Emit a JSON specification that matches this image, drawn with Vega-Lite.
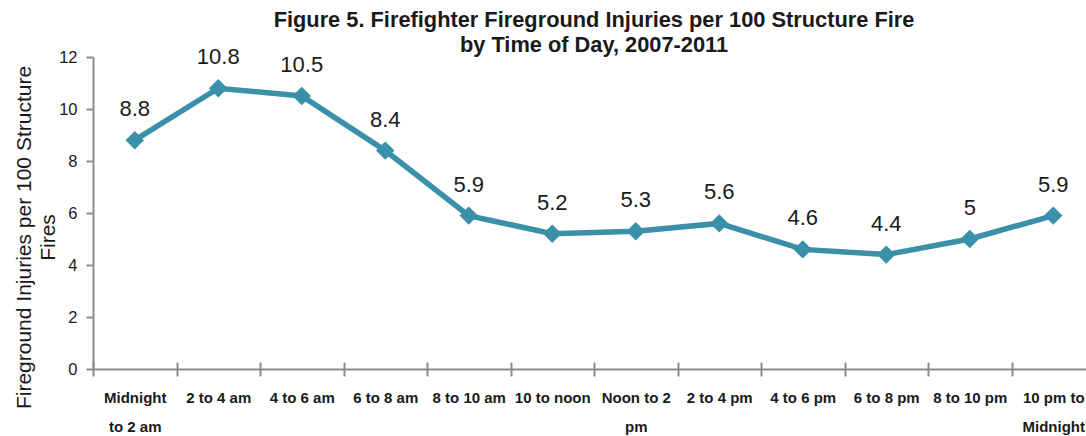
{
  "$schema": "https://vega.github.io/schema/vega-lite/v6.json",
  "autosize": {"type": "none"},
  "padding": {"left": 93, "top": 57, "right": 0, "bottom": 67},
  "width": 1002,
  "height": 312,
  "background": "white",
  "config": {
    "view": {"stroke": null},
    "font": "Liberation Sans"
  },
  "title": {
    "text": ["Figure 5. Firefighter Fireground Injuries per 100 Structure Fire", "by Time of Day, 2007-2011"],
    "font": "Liberation Sans",
    "fontSize": 21.8,
    "fontWeight": "bold",
    "color": "#1a1a1a",
    "anchor": "middle",
    "lineHeight": 25,
    "offset": 3,
    "dy": 14
  },
  "data": {
    "values": [
      {"time": "Midnight to 2 am", "rate": 8.8},
      {"time": "2 to 4 am", "rate": 10.8},
      {"time": "4 to 6 am", "rate": 10.5},
      {"time": "6 to 8 am", "rate": 8.4},
      {"time": "8 to 10 am", "rate": 5.9},
      {"time": "10 to noon", "rate": 5.2},
      {"time": "Noon to 2 pm", "rate": 5.3},
      {"time": "2 to 4 pm", "rate": 5.6},
      {"time": "4 to 6 pm", "rate": 4.6},
      {"time": "6 to 8 pm", "rate": 4.4},
      {"time": "8 to 10 pm", "rate": 5},
      {"time": "10 pm to Midnight", "rate": 5.9}
    ]
  },
  "resolve": {"axis": {"x": "independent"}},
  "layer": [
    {
      "encoding": {
        "x": {
          "field": "time",
          "type": "nominal",
          "sort": null,
          "scale": {"paddingInner": 0, "paddingOuter": 0},
          "axis": {
            "orient": "bottom",
            "title": null,
            "labelAngle": 0,
            "labelFont": "Liberation Sans",
            "labelFontSize": 15,
            "labelFontWeight": "bold",
            "labelColor": "#1a1a1a",
            "labelPadding": 21,
            "labelLineHeight": 29,
            "labelExpr": "datum.value == 'Midnight to 2 am' ? ['Midnight', 'to 2 am'] : datum.value == 'Noon to 2 pm' ? ['Noon to 2', 'pm'] : datum.value == '10 pm to Midnight' ? ['10 pm to', 'Midnight'] : datum.value",
            "labelBaseline": "middle",
            "labelLimit": 0,
            "tickBand": "extent",
            "tickSize": 7,
            "tickColor": "#8c8c8c",
            "tickWidth": 2,
            "domainColor": "#8c8c8c",
            "domainWidth": 2,
            "grid": false
          }
        },
        "y": {
          "field": "rate",
          "type": "quantitative",
          "scale": {"domain": [0, 12], "nice": false},
          "axis": {
            "values": [0, 2, 4, 6, 8, 10, 12],
            "title": ["Fireground Injuries per 100 Structure", "Fires"],
            "titleFont": "Liberation Sans",
            "titleFontSize": 21,
            "titleFontWeight": "normal",
            "titleColor": "#1a1a1a",
            "titleAngle": -90,
            "titleBaseline": "alphabetic",
            "titleLineHeight": 24,
            "titleX": -63,
            "titleY": 180,
            "titleAlign": "center",
            "labelFont": "Liberation Sans",
            "labelFontSize": 16.5,
            "labelColor": "#1a1a1a",
            "labelPadding": 9,
            "tickSize": 7,
            "tickColor": "#8c8c8c",
            "tickWidth": 2,
            "domainColor": "#8c8c8c",
            "domainWidth": 2,
            "grid": false
          }
        }
      },
      "layer": [
        {
          "mark": {"type": "line", "color": "#3990A8", "strokeWidth": 5.5}
        },
        {
          "mark": {"type": "point", "shape": "diamond", "filled": true, "color": "#3990A8", "size": 340, "opacity": 1}
        },
        {
          "mark": {"type": "text", "fontSize": 22, "dy": -24, "baseline": "alphabetic", "color": "#1a1a1a", "font": "Liberation Sans"},
          "encoding": {"text": {"field": "rate", "type": "quantitative"}}
        }
      ]
    },
    {
      "mark": {"type": "point", "opacity": 0},
      "encoding": {
        "x": {
          "field": "time",
          "type": "nominal",
          "sort": null,
          "axis": {
            "orient": "bottom",
            "title": null,
            "labels": false,
            "domain": false,
            "tickBand": "extent",
            "tickSize": -7,
            "tickColor": "#8c8c8c",
            "tickWidth": 2,
            "grid": false
          }
        },
        "y": {"field": "rate", "type": "quantitative"}
      }
    }
  ]
}
